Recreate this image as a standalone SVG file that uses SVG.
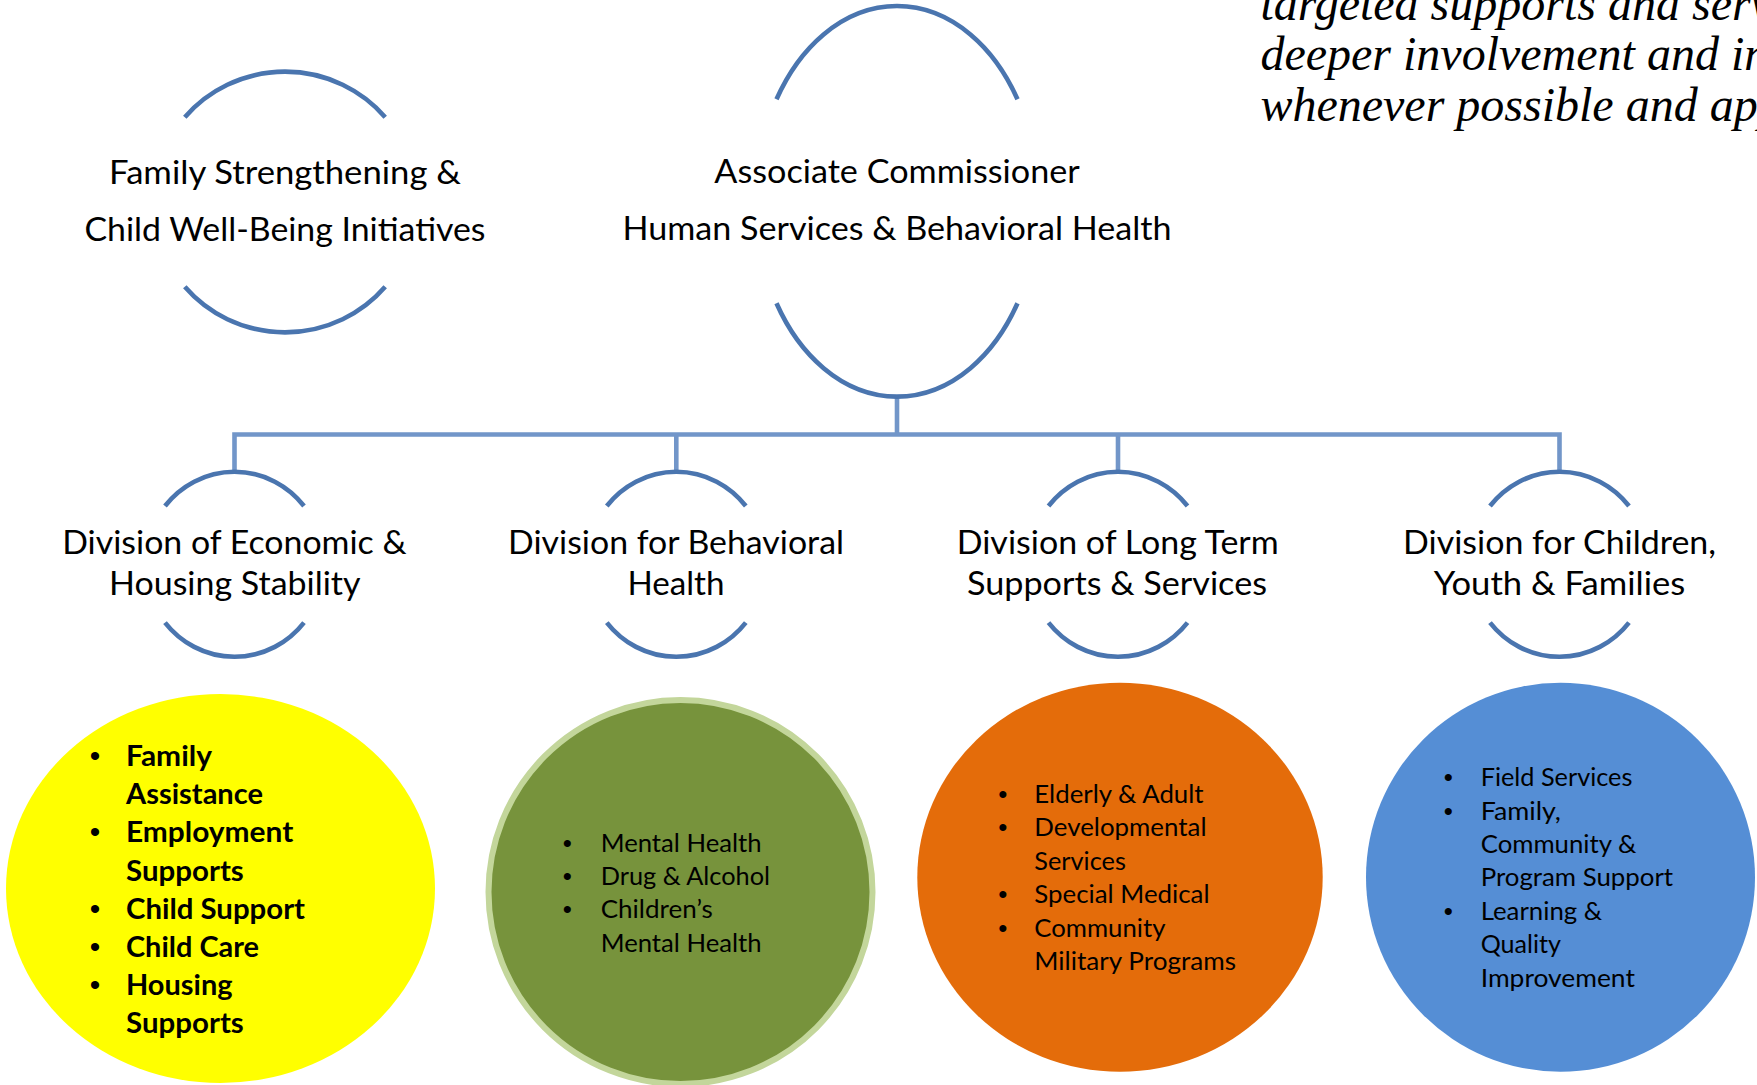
<svg xmlns="http://www.w3.org/2000/svg" width="1757" height="1085" viewBox="0 0 1757 1085">
<style>
.arc{fill:none;stroke:#4A75AF;stroke-width:4.6;stroke-linecap:butt}
.con{fill:none;stroke:#7296C9;stroke-width:4.6;stroke-linejoin:miter;stroke-linecap:butt}
.hd{font-family:Lato,"Liberation Sans",sans-serif;font-size:33px;fill:#000;text-anchor:middle}
.li{font-family:Lato,"Liberation Sans",sans-serif;font-size:25px;fill:#000}
.lb{font-family:Lato,"Liberation Sans",sans-serif;font-size:28.5px;font-weight:bold;fill:#000}
.bu{font-family:"Liberation Sans",sans-serif;fill:#000;text-anchor:middle}
.it{font-family:"Liberation Serif",serif;font-style:italic;font-size:48px;fill:#000}
</style>
<rect width="1757" height="1085" fill="#FFFFFF"/>

<g id="intro-text">
<text class="it" x="1260.4" y="20">targeted supports and serv</text>
<text class="it" x="1260.4" y="70">deeper involvement and in</text>
<text class="it" x="1260.4" y="120.7">whenever possible and app</text>
</g>

<g id="connectors">
<path class="con" d="M897,396 V434.5"/>
<path class="con" d="M234.5,472 V434.5 H1559.5 V472"/>
<path class="con" d="M676.3,434.5 V472"/>
<path class="con" d="M1118,434.5 V472"/>
</g>

<g id="node-family-strengthening">
<path class="arc" d="M184.8,117.2 A132,130.5 0 0 1 385.2,117.2"/>
<path class="arc" d="M184.8,286.8 A132,130.5 0 0 0 385.2,286.8"/>
<text class="hd" x="285" y="184.3" textLength="352" lengthAdjust="spacingAndGlyphs">Family Strengthening &amp;</text>
<text class="hd" x="285" y="240.7" textLength="401" lengthAdjust="spacingAndGlyphs">Child Well-Being Initiatives</text>
</g>

<g id="node-associate-commissioner">
<path class="arc" d="M776.5,99.3 A141.3,195.3 0 0 1 1017.5,99.3"/>
<path class="arc" d="M776.5,303.3 A141.3,195.3 0 0 0 1017.5,303.3"/>
<text class="hd" x="897" y="183.3" textLength="365.5" lengthAdjust="spacingAndGlyphs">Associate Commissioner</text>
<text class="hd" x="897" y="240" textLength="549" lengthAdjust="spacingAndGlyphs">Human Services &amp; Behavioral Health</text>
</g>

<g id="node-div-economic">
<path class="arc" d="M165,506 A89.5,92.5 0 0 1 304,506"/>
<path class="arc" d="M165,622.6 A89.5,92.5 0 0 0 304,622.6"/>
<text class="hd" x="234.4" y="554" textLength="344.4" lengthAdjust="spacingAndGlyphs">Division of Economic &amp;</text>
<text class="hd" x="234.8" y="595" textLength="251.5" lengthAdjust="spacingAndGlyphs">Housing Stability</text>
</g>

<g id="node-div-behavioral">
<path class="arc" d="M606.8,506 A89.5,92.5 0 0 1 745.8,506"/>
<path class="arc" d="M606.8,622.6 A89.5,92.5 0 0 0 745.8,622.6"/>
<text class="hd" x="676" y="554" textLength="335.9" lengthAdjust="spacingAndGlyphs">Division for Behavioral</text>
<text class="hd" x="676" y="595" textLength="97.1" lengthAdjust="spacingAndGlyphs">Health</text>
</g>

<g id="node-div-longterm">
<path class="arc" d="M1048.5,506 A89.5,92.5 0 0 1 1187.5,506"/>
<path class="arc" d="M1048.5,622.6 A89.5,92.5 0 0 0 1187.5,622.6"/>
<text class="hd" x="1117.7" y="554" textLength="322" lengthAdjust="spacingAndGlyphs">Division of Long Term</text>
<text class="hd" x="1117" y="595" textLength="300" lengthAdjust="spacingAndGlyphs">Supports &amp; Services</text>
</g>

<g id="node-div-children">
<path class="arc" d="M1490,506 A89.5,92.5 0 0 1 1629,506"/>
<path class="arc" d="M1490,622.6 A89.5,92.5 0 0 0 1629,622.6"/>
<text class="hd" x="1559.5" y="554" textLength="313" lengthAdjust="spacingAndGlyphs">Division for Children,</text>
<text class="hd" x="1559.5" y="595" textLength="251.7" lengthAdjust="spacingAndGlyphs">Youth &amp; Families</text>
</g>

<g id="node-list-economic">
<ellipse cx="220.5" cy="888.5" rx="214.5" ry="194.5" fill="#FFFF00"/>
<g class="bu" font-size="30px">
<text x="95" y="766">•</text>
<text x="95" y="842.4">•</text>
<text x="95" y="918.7">•</text>
<text x="95" y="956.9">•</text>
<text x="95" y="995.1">•</text>
</g>
<text class="lb" x="126" y="766" textLength="86" lengthAdjust="spacingAndGlyphs">Family</text>
<text class="lb" x="126" y="804.2" textLength="137" lengthAdjust="spacingAndGlyphs">Assistance</text>
<text class="lb" x="126" y="842.4" textLength="167.3" lengthAdjust="spacingAndGlyphs">Employment</text>
<text class="lb" x="126" y="880.5" textLength="117.8" lengthAdjust="spacingAndGlyphs">Supports</text>
<text class="lb" x="126" y="918.7" textLength="179" lengthAdjust="spacingAndGlyphs">Child Support</text>
<text class="lb" x="126" y="956.9" textLength="133" lengthAdjust="spacingAndGlyphs">Child Care</text>
<text class="lb" x="126" y="995.1" textLength="106.5" lengthAdjust="spacingAndGlyphs">Housing</text>
<text class="lb" x="126" y="1033.3" textLength="117.8" lengthAdjust="spacingAndGlyphs">Supports</text>
</g>

<g id="node-list-behavioral">
<circle cx="680.5" cy="892" r="192" fill="#77933C" stroke="#C3D69B" stroke-width="6"/>
<g class="bu" font-size="26px">
<text x="567.3" y="851.7">•</text>
<text x="567.3" y="885">•</text>
<text x="567.3" y="918.3">•</text>
</g>
<text class="li" x="600.7" y="851.7" textLength="161" lengthAdjust="spacingAndGlyphs">Mental Health</text>
<text class="li" x="600.7" y="885" textLength="169.3" lengthAdjust="spacingAndGlyphs">Drug &amp; Alcohol</text>
<text class="li" x="600.7" y="918.3" textLength="112" lengthAdjust="spacingAndGlyphs">Children’s</text>
<text class="li" x="600.7" y="951.6" textLength="161" lengthAdjust="spacingAndGlyphs">Mental Health</text>
</g>

<g id="node-list-longterm">
<ellipse cx="1120" cy="877.2" rx="202.7" ry="194.5" fill="#E46C0A"/>
<g class="bu" font-size="26px">
<text x="1002.7" y="802.7">•</text>
<text x="1002.7" y="836.2">•</text>
<text x="1002.7" y="903.1">•</text>
<text x="1002.7" y="936.6">•</text>
</g>
<text class="li" x="1034.3" y="802.7" textLength="169.3" lengthAdjust="spacingAndGlyphs">Elderly &amp; Adult</text>
<text class="li" x="1034.3" y="836.2" textLength="172.2" lengthAdjust="spacingAndGlyphs">Developmental</text>
<text class="li" x="1034.3" y="869.6" textLength="91.6" lengthAdjust="spacingAndGlyphs">Services</text>
<text class="li" x="1034.3" y="903.1" textLength="175.2" lengthAdjust="spacingAndGlyphs">Special Medical</text>
<text class="li" x="1034.3" y="936.6" textLength="131.1" lengthAdjust="spacingAndGlyphs">Community</text>
<text class="li" x="1034.3" y="970" textLength="201.7" lengthAdjust="spacingAndGlyphs">Military Programs</text>
</g>

<g id="node-list-children">
<ellipse cx="1560.5" cy="877.2" rx="194.5" ry="194.5" fill="#558ED5"/>
<g class="bu" font-size="26px">
<text x="1448.3" y="786">•</text>
<text x="1448.3" y="819.5">•</text>
<text x="1448.3" y="919.8">•</text>
</g>
<text class="li" x="1480.7" y="786" textLength="151.7" lengthAdjust="spacingAndGlyphs">Field Services</text>
<text class="li" x="1480.7" y="819.5" textLength="80.2" lengthAdjust="spacingAndGlyphs">Family,</text>
<text class="li" x="1480.7" y="852.9" textLength="155.6" lengthAdjust="spacingAndGlyphs">Community &amp;</text>
<text class="li" x="1480.7" y="886.4" textLength="192.4" lengthAdjust="spacingAndGlyphs">Program Support</text>
<text class="li" x="1480.7" y="919.8" textLength="121.5" lengthAdjust="spacingAndGlyphs">Learning &amp;</text>
<text class="li" x="1480.7" y="953.3" textLength="80.3" lengthAdjust="spacingAndGlyphs">Quality</text>
<text class="li" x="1480.7" y="986.7" textLength="154.2" lengthAdjust="spacingAndGlyphs">Improvement</text>
</g>
</svg>
